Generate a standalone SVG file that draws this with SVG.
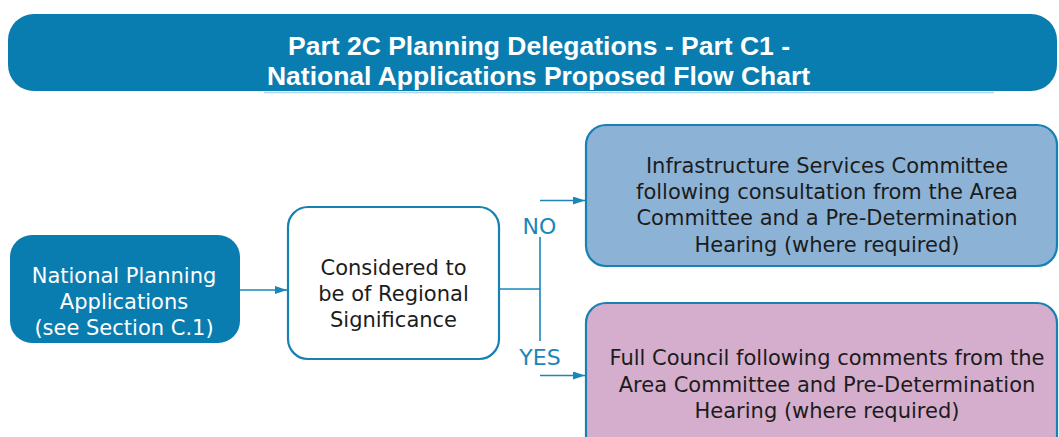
<svg xmlns="http://www.w3.org/2000/svg" width="1059" height="437" viewBox="0 0 1059 437">
<style>
.t{font-family:"DejaVu Sans",sans-serif;font-size:21px;text-anchor:middle;fill:#1c1c1c}
.w{fill:#ffffff}
.lbl{font-family:"DejaVu Sans",sans-serif;font-size:22px;text-anchor:middle;fill:#1a86b8}
.ttl{font-family:"Liberation Sans",Arial,sans-serif;font-weight:bold;font-size:26px;text-anchor:middle;fill:#ffffff}
.ln{stroke:#1a86b8;stroke-width:1.6;fill:none}
.node{stroke:#1682b4;stroke-width:2.2}
</style>
<defs>
<marker id="ah" viewBox="0 0 12 8" refX="12" refY="4" markerWidth="12" markerHeight="8" markerUnits="userSpaceOnUse" orient="auto">
<path d="M0,0 L12,4 L0,8 Z" fill="#1a86b8"/>
</marker>
</defs>
<g id="title">
<rect x="8" y="14" width="1049" height="77" rx="26" fill="#0a7db0"/>
<line x1="264" y1="92.5" x2="994" y2="92.5" stroke="#a9d6ea" stroke-width="1.5"/>
<text class="ttl" x="539" y="55" textLength="502" lengthAdjust="spacingAndGlyphs">Part 2C Planning Delegations - Part C1 -</text>
<text class="ttl" x="538.5" y="85" textLength="543" lengthAdjust="spacingAndGlyphs">National Applications Proposed Flow Chart</text>
</g>
<g id="connectors">
<line class="ln" x1="240" y1="290" x2="287" y2="290" marker-end="url(#ah)"/>
<line class="ln" x1="499" y1="289" x2="540" y2="289"/>
<line class="ln" x1="540" y1="237" x2="540" y2="341"/>
<line class="ln" x1="540" y1="200.5" x2="585" y2="200.5" marker-end="url(#ah)"/>
<line class="ln" x1="540" y1="375.5" x2="585" y2="375.5" marker-end="url(#ah)"/>
<text class="lbl" x="539.5" y="234">NO</text>
<text class="lbl" x="540" y="365">YES</text>
</g>
<g id="n1">
<rect x="10" y="235" width="230" height="108" rx="22" fill="#0a7db0"/>
<text class="t w" x="124" y="283">National Planning</text>
<text class="t w" x="124" y="309">Applications</text>
<text class="t w" x="124" y="335">(see Section C.1)</text>
</g>
<g id="n2">
<rect class="node" x="288" y="207" width="211" height="152" rx="20" fill="#ffffff"/>
<text class="t" x="393.5" y="275">Considered to</text>
<text class="t" x="393.5" y="301">be of Regional</text>
<text class="t" x="393.5" y="327">Significance</text>
</g>
<g id="n3">
<rect class="node" x="586" y="125" width="471" height="141" rx="20" fill="#8cb3d6"/>
<text class="t" x="827" y="173">Infrastructure Services Committee</text>
<text class="t" x="827" y="199">following consultation from the Area</text>
<text class="t" x="827" y="225">Committee and a Pre-Determination</text>
<text class="t" x="827" y="252">Hearing (where required)</text>
</g>
<g id="n4">
<rect class="node" x="586" y="303" width="471" height="160" rx="20" fill="#d5aecd"/>
<text class="t" x="827" y="365">Full Council following comments from the</text>
<text class="t" x="827" y="392">Area Committee and Pre-Determination</text>
<text class="t" x="827" y="418">Hearing (where required)</text>
</g>
</svg>
